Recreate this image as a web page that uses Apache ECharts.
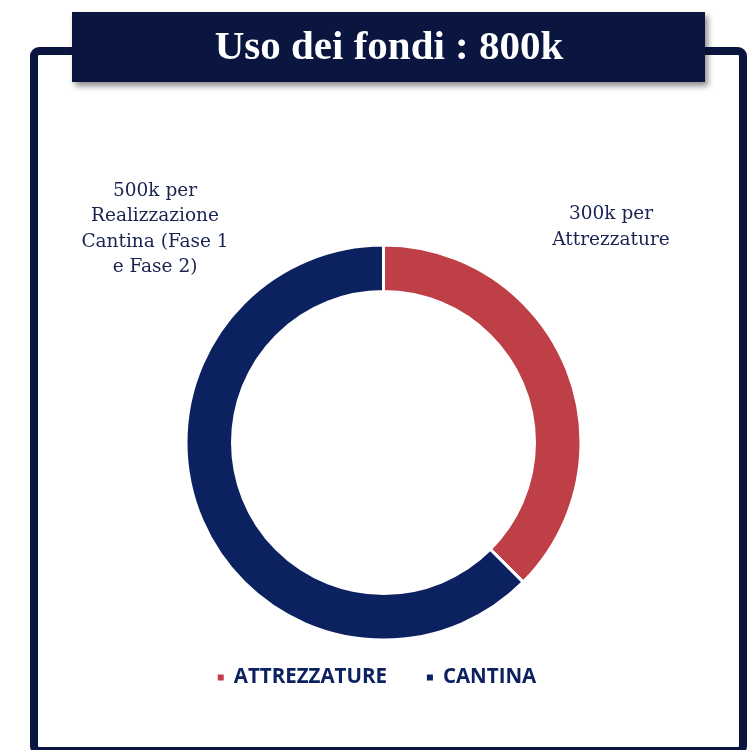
<!DOCTYPE html>
<html><head><meta charset="utf-8">
<script src="https://cdn.jsdelivr.net/npm/echarts@6/dist/echarts.min.js"></script>
<style>html,body{margin:0;padding:0;background:#fff}#c{width:752px;height:750px}</style>
</head><body><div id="c"></div>
<script>
const title = 'Uso dei fondi : 800k';
const categories = ['ATTREZZATURE', 'CANTINA'];
const values = [300, 500];
const sliceLabels = ['300k per\nAttrezzature', '500k per\nRealizzazione\nCantina (Fase 1\ne Fase 2)'];
const colors = ['#BE3F45', '#0C2260'];
const labelPos = [[611, 227], [155, 229]];

const chart = echarts.init(document.getElementById('c'), null, {renderer: 'canvas'});
chart.setOption({
  backgroundColor: '#fff',
  animation: false,
  color: colors,
  graphic: [
    {type: 'rect', z: 1, shape: {x: 34, y: 51, width: 709, height: 700, r: 5},
     style: {fill: 'none', stroke: '#0B1640', lineWidth: 8}},
    {type: 'rect', z: 2, shape: {x: 72, y: 12, width: 633, height: 70},
     style: {fill: '#0B1640', shadowBlur: 6, shadowOffsetX: 3, shadowOffsetY: 4, shadowColor: 'rgba(0,0,0,0.45)'}},
    {type: 'text', z: 3, x: 389, y: 48,
     style: {text: title, fill: '#fff', font: 'bold 41px "Liberation Serif"', align: 'center', verticalAlign: 'middle'}}
  ],
  legend: {
    data: categories, top: 662, left: 'center', icon: 'rect', itemWidth: 8, itemHeight: 8, itemGap: 38,
    textStyle: {color: '#0C2260', fontFamily: 'Open Sans', fontWeight: 'bold', fontSize: 20.5, padding: [0, 0, 0, 4]}
  },
  series: [{
    type: 'pie', center: [383.5, 442.5], radius: [151, 197.5], startAngle: 90, clockwise: true,
    itemStyle: {borderColor: '#fff', borderWidth: 3},
    label: {show: true, position: 'outside', color: '#1A2350', fontFamily: 'DejaVu Serif', fontSize: 18.5, lineHeight: 25.5, align: 'center',
      overflow: 'none', width: 200, edgeDistance: 0,
      formatter: p => sliceLabels[p.dataIndex]},
    labelLine: {show: false},
    labelLayout: p => ({x: labelPos[p.dataIndex][0], y: labelPos[p.dataIndex][1], align: 'center', verticalAlign: 'middle'}),
    emphasis: {disabled: true},
    data: categories.map((c, i) => ({name: c, value: values[i]}))
  }]
});
</script></body></html>
